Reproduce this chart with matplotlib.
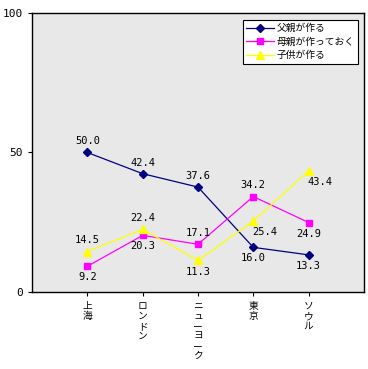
import matplotlib.pyplot as plt
import numpy as np

plt.rcParams['font.family'] = ['Noto Sans CJK JP', 'DejaVu Sans']

cities = ['上海', 'ロンドン', 'ニューヨーク', '東京', 'ソウル']
father = [50.0, 42.4, 37.6, 16.0, 13.3]
mother = [9.2, 20.3, 17.1, 34.2, 24.9]
child = [14.5, 22.4, 11.3, 25.4, 43.4]
names = ['父親が作る', '母親が作っておく', '子供が作る']

# label position: +1 above, -1 below
father_pos = [1, 1, 1, -1, -1]
mother_pos = [-1, -1, 1, 1, -1]
child_pos = [1, 1, -1, -1, -1]

fig = plt.figure(figsize=(3.68, 3.69), dpi=100)
ax = fig.add_axes([0.087, 0.2087, 0.902, 0.7561])
ax.set_facecolor('#e8e8e8')

x = np.arange(len(cities))
ax.plot(x, father, color='#000080', marker='D', markersize=4, lw=0.9, label=names[0])
ax.plot(x, mother, color='#ff00ff', marker='s', markersize=5, lw=0.9, label=names[1])
ax.plot(x, child, color='#ffff00', marker='^', markersize=6, lw=0.9, label=names[2])

for vals, pos, dx in [(father, father_pos, [0, 0, 0, 0, 0]),
                      (mother, mother_pos, [0, 0, 0, 0, 0]),
                      (child, child_pos, [0, 0, 0, 8, 8])]:
    for i, (v, p) in enumerate(zip(vals, pos)):
        ax.annotate('%.1f' % v, (x[i], v), xytext=(dx[i], 8 * p),
                    textcoords='offset points', ha='center', va='center',
                    fontsize=7.5, family='DejaVu Sans Mono')

ax.set_xlim(-1, 5)
ax.set_ylim(0, 100)
ax.set_yticks([0, 50, 100])
ax.set_yticklabels(['0', '50', '100'], family='DejaVu Sans Mono', fontsize=8)
ax.set_xticks(x)
ax.set_xticklabels(['\n'.join(c) for c in cities], fontsize=7, linespacing=1.0)
ax.tick_params(axis='y', length=3)
ax.tick_params(axis='x', length=3)
for s in ax.spines.values():
    s.set_linewidth(1)

leg = ax.legend(loc='upper right', bbox_to_anchor=(0.982, 0.975), borderaxespad=0,
                fontsize=7, fancybox=False, framealpha=1, edgecolor='black',
                handlelength=2.8, handletextpad=0.3, borderpad=0.35,
                labelspacing=0.35)
leg.get_frame().set_linewidth(0.8)

fig.savefig('out.png', dpi=100)
